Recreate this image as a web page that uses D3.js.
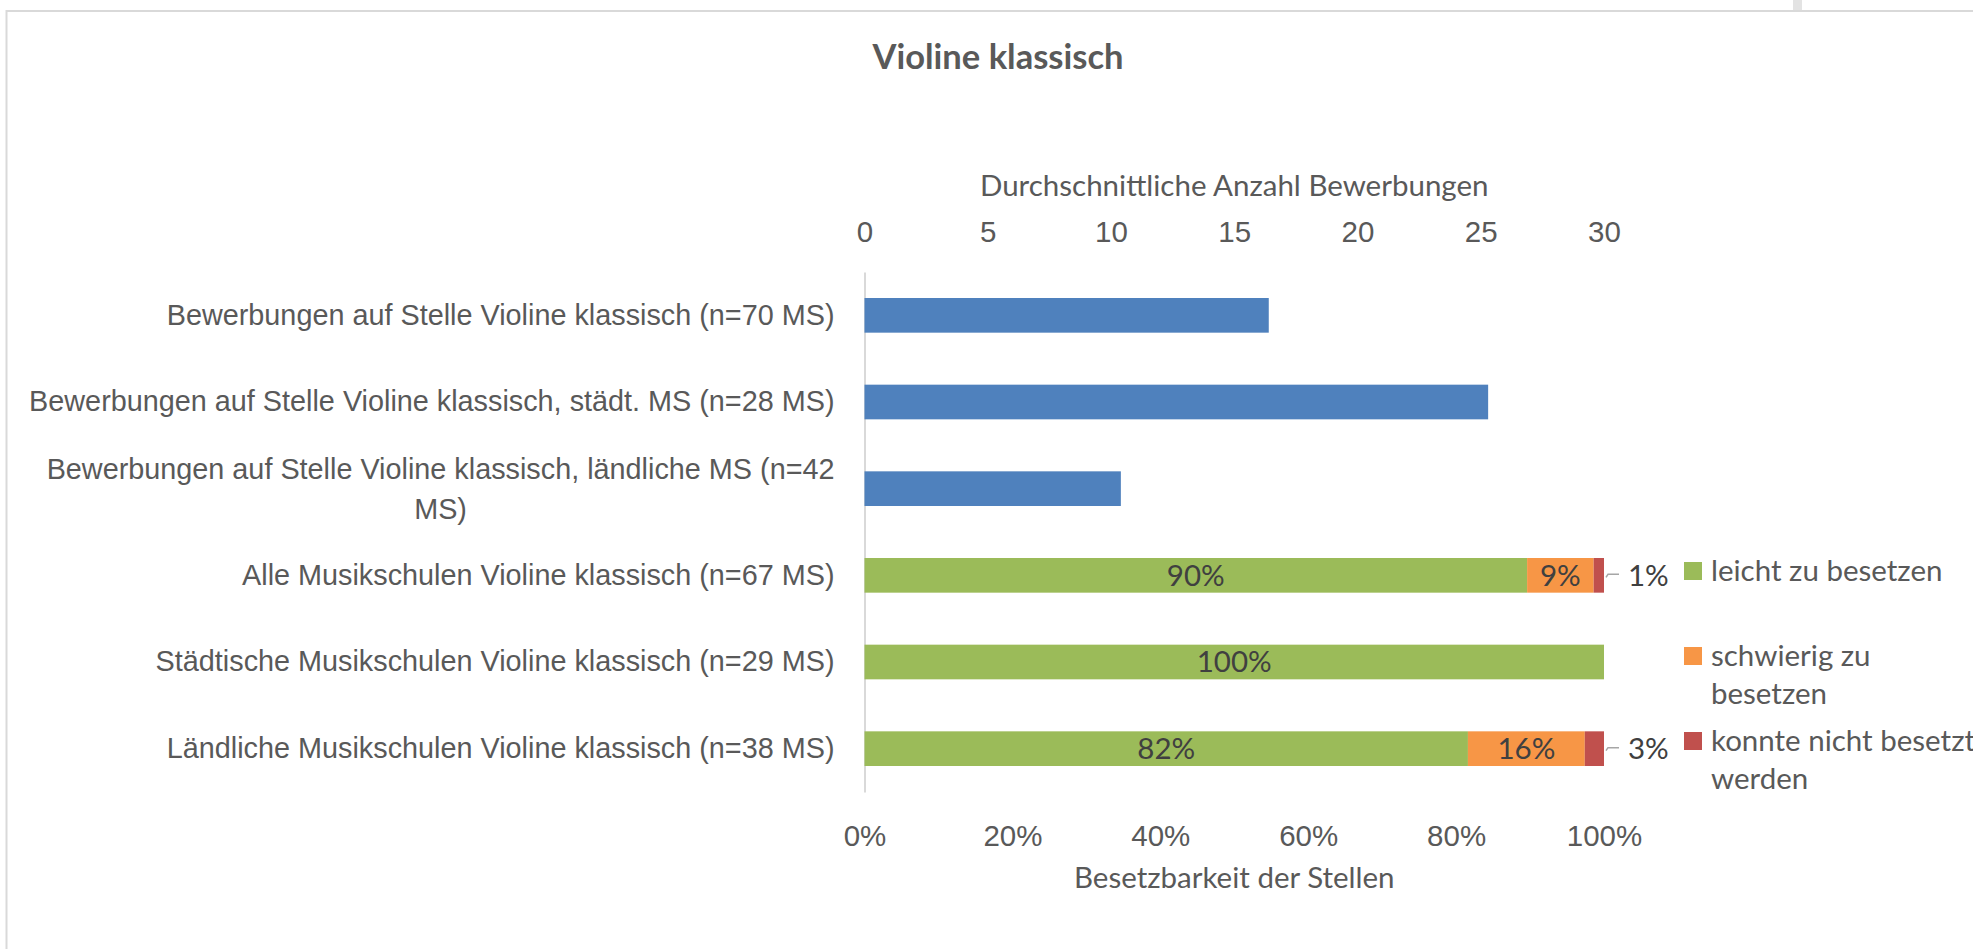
<!DOCTYPE html>
<html>
<head>
<meta charset="utf-8">
<script src="https://cdn.jsdelivr.net/npm/d3@7"></script>
<style>
  body { margin: 0; background: #fff; }
  svg { display: block; font-family: Lato, "Noto Sans", sans-serif; }
  .axis text { fill: #595959; font-size: 29.5px; }
  .axis.cat text { font-size: 28.8px; }
</style>
</head>
<body>
<svg id="chart" width="1973" height="949"></svg>
<script>
var title = "Violine klassisch";
var topAxisTitle = "Durchschnittliche Anzahl Bewerbungen";
var bottomAxisTitle = "Besetzbarkeit der Stellen";

var categories = [
  "Bewerbungen auf Stelle Violine klassisch (n=70 MS)",
  "Bewerbungen auf Stelle Violine klassisch, städt. MS (n=28 MS)",
  "Bewerbungen auf Stelle Violine klassisch, ländliche MS (n=42\nMS)",
  "Alle Musikschulen Violine klassisch (n=67 MS)",
  "Städtische Musikschulen Violine klassisch (n=29 MS)",
  "Ländliche Musikschulen Violine klassisch (n=38 MS)"
];

// first three rows: average number of applications
var avgApplications = [16.4, 25.3, 10.4];

// last three rows: share of positions (%)
var easyShare = [89.6, 100, 81.6];
var hardShare = [9.0, 0, 15.8];
var failedShare = [1.4, 0, 2.6];

var seriesNames = ["leicht zu besetzen", "schwierig zu\nbesetzen", "konnte nicht besetzt\nwerden"];
var seriesColors = ["#9BBB59", "#F79646", "#C0504D"];
var barColor = "#4F81BD";

var topTicks = [0, 5, 10, 15, 20, 25, 30];
var bottomTicks = [0, 20, 40, 60, 80, 100];

var svg = d3.select("#chart");
var textColor = "#595959";
var fontSize = 29.5;

// frame lines of the original screenshot
svg.append("line").attr("x1", 6.5).attr("x2", 6.5).attr("y1", 10).attr("y2", 949)
  .attr("stroke", "#d9d9d9").attr("stroke-width", 2);
svg.append("line").attr("x1", 6).attr("x2", 1973).attr("y1", 11).attr("y2", 11)
  .attr("stroke", "#d9d9d9").attr("stroke-width", 2);
svg.append("rect").attr("x", 1793).attr("y", 0).attr("width", 9).attr("height", 10).attr("fill", "#e3e3e3");

var plotLeft = 864.5, plotRight = 1604, plotTop = 272, plotBottom = 792;

var xTop = d3.scaleLinear().domain([0, 30]).range([plotLeft, plotRight]);
var xPct = d3.scaleLinear().domain([0, 100]).range([plotLeft, plotRight]);
var y = d3.scaleBand().domain(categories).range([plotTop, plotBottom])
  .paddingInner(0.6).paddingOuter(0.3);

svg.append("text")
  .attr("x", 998).attr("y", 57).attr("dy", "0.35em")
  .attr("text-anchor", "middle")
  .attr("fill", textColor).attr("font-size", 34.5).attr("font-weight", "bold")
  .text(title);

// top value axis
var topAxis = svg.append("g").attr("class", "axis")
  .attr("transform", "translate(0,231.5)")
  .call(d3.axisTop(xTop).tickValues(topTicks).tickSize(0).tickPadding(0));
topAxis.select(".domain").remove();
topAxis.selectAll("text").attr("y", 0).attr("dy", "0.35em");

svg.append("text")
  .attr("x", (plotLeft + plotRight) / 2).attr("y", 186).attr("dy", "0.35em")
  .attr("text-anchor", "middle").attr("fill", textColor).attr("font-size", fontSize)
  .text(topAxisTitle);

// bottom percent axis
var bottomAxis = svg.append("g").attr("class", "axis")
  .attr("transform", "translate(0,835.5)")
  .call(d3.axisBottom(xPct).tickValues(bottomTicks).tickSize(0).tickPadding(0)
    .tickFormat(function(d) { return d + "%"; }));
bottomAxis.select(".domain").remove();
bottomAxis.selectAll("text").attr("y", 0).attr("dy", "0.35em");

svg.append("text")
  .attr("x", (plotLeft + plotRight) / 2).attr("y", 878).attr("dy", "0.35em")
  .attr("text-anchor", "middle").attr("fill", textColor).attr("font-size", fontSize)
  .text(bottomAxisTitle);

// category axis
var catAxis = svg.append("g").attr("class", "axis cat")
  .attr("transform", "translate(" + plotLeft + ",0)")
  .call(d3.axisLeft(y).tickSize(0).tickPadding(30));
catAxis.select(".domain").attr("stroke", "#d9d9d9").attr("stroke-width", 2);
catAxis.selectAll(".tick text").each(function(d) {
  var lines = d.split("\n");
  if (lines.length < 2) return;
  var t = d3.select(this).text(null).attr("dy", null);
  var lineH = 40;
  lines.forEach(function(line, i) {
    t.append("tspan").attr("x", -30).attr("y", (i - (lines.length - 1) / 2) * lineH)
      .attr("dy", "0.35em").text(line);
  });
  // wrapped labels are centred on their widest line
  var widest = d3.max(t.selectAll("tspan").nodes(), function(n) { return n.getComputedTextLength(); });
  t.attr("text-anchor", "middle").selectAll("tspan").attr("x", -30 - widest / 2);
});

// blue bars
svg.append("g").selectAll("rect")
  .data(avgApplications)
  .enter().append("rect")
  .attr("x", xTop(0))
  .attr("y", function(d, i) { return y(categories[i]); })
  .attr("width", function(d) { return xTop(d) - xTop(0); })
  .attr("height", y.bandwidth())
  .attr("fill", barColor);

// stacked percent bars
var pctRows = categories.slice(3);
var stackData = pctRows.map(function(c, i) {
  return { cat: c, values: [easyShare[i], hardShare[i], failedShare[i]] };
});

stackData.forEach(function(row) {
  var start = 0;
  var g = svg.append("g");
  row.values.forEach(function(v, k) {
    var x0 = xPct(start), x1 = xPct(start + v);
    start += v;
    if (v <= 0) return;
    g.append("rect")
      .attr("x", x0).attr("y", y(row.cat))
      .attr("width", x1 - x0).attr("height", y.bandwidth())
      .attr("fill", seriesColors[k]);
    var cy = y(row.cat) + y.bandwidth() / 2;
    var label = d3.format(".0f")(v) + "%";
    if (k < 2) {
      g.append("text").attr("x", (x0 + x1) / 2).attr("y", cy).attr("dy", "0.35em")
        .attr("text-anchor", "middle").attr("fill", "#404040").attr("font-size", fontSize)
        .text(label);
    } else {
      g.append("path")
        .attr("d", "M" + (x1 + 2) + "," + (cy + 2) + "L" + (x1 + 4) + "," + (cy - 1) + "L" + (x1 + 15) + "," + (cy - 1))
        .attr("fill", "none").attr("stroke", "#a6a6a6").attr("stroke-width", 1.5);
      g.append("text").attr("x", x1 + 24).attr("y", cy).attr("dy", "0.35em")
        .attr("fill", "#404040").attr("font-size", fontSize)
        .text(label);
    }
  });
});

// legend
var legendY = [571, 656, 741];
var legend = svg.append("g");
seriesNames.forEach(function(name, k) {
  legend.append("rect").attr("x", 1684).attr("y", legendY[k] - 9)
    .attr("width", 18).attr("height", 18).attr("fill", seriesColors[k]);
  var t = legend.append("text").attr("fill", textColor).attr("font-size", fontSize);
  name.split("\n").forEach(function(line, i) {
    t.append("tspan").attr("x", 1711).attr("y", legendY[k] + i * 38)
      .attr("dy", "0.35em").text(line);
  });
});
</script>
</body>
</html>
